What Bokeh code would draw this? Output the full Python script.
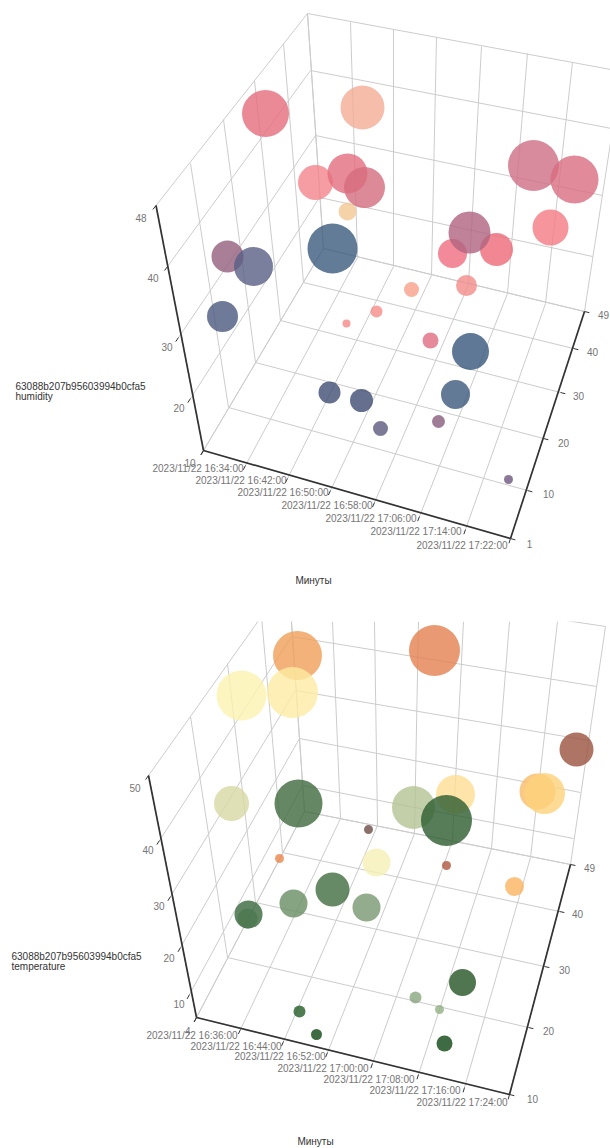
from bokeh.plotting import figure
from bokeh.embed import file_html
from bokeh.resources import INLINE
from bokeh.layouts import column
from bokeh.core.properties import value

# ---------- chart 1: humidity (bubble values, projected position) ----------
hum_sx = [362,265,315,347,364,533,574,347,550,452,496,469,332,227,253,411,466,222,346,376,430,470,329,361,380,455,438,508]
hum_sy = [107,113,182,173,187,165,179,211,227,253,249,232,248,256,266,289,285,316,323,311,340,351,392,400,428,394,421,479]
hum_size = [44,47,35,40,41,51,48,18,36,29,33,42,50,32,39,15,21,31,8,12,16,37,22,23,15,29,13,9]
hum_color = ["#f6bdab","#ea8a97","#f59da3","#e98a98","#dd8a98","#d88b9c","#e08a9a","#f6d2a8","#f6959c","#f38a99","#f08793","#c08299",
             "#627b96","#a87f97","#7a7f9d","#f9b3a0","#f5a3a0","#6f7a98","#f7a0a0","#f8a3a0","#e68a9b","#5e7895","#66708f","#65708f",
             "#7d7a98","#627a95","#a07d97","#8b7799"]
hum_z_labels = ["48","40","30","20","10"]
hum_y_labels = ["49","40","30","20","10","1"]
hum_time_labels = ["2023/11/22 16:34:00","2023/11/22 16:42:00","2023/11/22 16:50:00","2023/11/22 16:58:00",
                   "2023/11/22 17:06:00","2023/11/22 17:14:00","2023/11/22 17:22:00"]

# ---------- chart 2: temperature ----------
tem_sx = [297,434,241,292,576,231,298,413,455,446,537,544,368,446,279,376,514,332,366,293,248,247,462,415,439,444,316,299]
tem_sy = [655,650,695,692,749,803,803,807,794,820,791,793,829,865,858,862,886,889,907,903,914,918,982,997,1009,1043,1034,1011]
tem_size = [49,51,50,51,34,35,48,43,39,51,36,41,9,9,9,28,19,34,28,28,28,20,27,12,9,16,11,12]
tem_color = ["#f3b27a","#ea9a72","#fdf5c0","#fdefb5","#ae7565","#dfe0b5","#658763","#c2cfa8","#fee4a8","#567c58","#fbc987","#fddb95",
             "#8b6f6a","#bf7865","#ef9e70","#f8f3c4","#fcc27f","#668a65","#93ac8d","#86a382","#5f8563","#6f9271","#507650","#a0b898",
             "#a8c09b","#3f6b42","#3f6b42","#4f7c50"]
tem_z_labels = ["50","40","30","20","10","4"]
tem_y_labels = ["49","40","30","20","10"]
tem_time_labels = ["2023/11/22 16:36:00","2023/11/22 16:44:00","2023/11/22 16:52:00","2023/11/22 17:00:00",
                   "2023/11/22 17:08:00","2023/11/22 17:16:00","2023/11/22 17:24:00"]
series_name = "63088b207b95603994b0cfa5"
x_name = "Минуты"

ALPHA = 0.8
FONT = value("Liberation Sans")
LABEL = "#757575"


def base(hexcol):
    """Colour that gives the observed tint when drawn at ALPHA over white."""
    ch = [int(hexcol[i:i + 2], 16) for i in (1, 3, 5)]
    ch = [max(0, min(255, round((c - 255 * (1 - ALPHA)) / ALPHA))) for c in ch]
    return "#%02x%02x%02x" % tuple(ch)


def outward(a, b, n=5.0):
    dx, dy = a[0] - b[0], a[1] - b[1]
    d = (dx * dx + dy * dy) ** 0.5
    return (a[0] + dx / d * n, a[1] + dy / d * n)


def make(top, bottom, geo, sx, sy, size, color, z_labels, y_labels, t_labels, metric):
    p = figure(width=610, height=bottom - top, x_range=(0, 610), y_range=(bottom, top),
               output_backend="svg", toolbar_location=None, min_border=0,
               x_axis_type=None, y_axis_type=None, outline_line_color=None,
               background_fill_color="white", border_fill_color="white")
    p.grid.visible = False

    seg = geo["grid"]
    p.multi_line([[a[0], b[0]] for a, b in seg], [[a[1], b[1]] for a, b in seg],
                 line_color="#cccccc", line_width=1)

    tk = [(a, outward(a, b)) for a, b in geo["ticks"]]
    p.multi_line([[a[0], b[0]] for a, b in tk], [[a[1], b[1]] for a, b in tk],
                 line_color="#333333", line_width=1)
    for a, b in geo["axes"]:
        p.line([a[0], b[0]], [a[1], b[1]], line_color="#333333", line_width=1.7)

    p.scatter(sx, sy, size=size, marker="circle", fill_color=[base(c) for c in color],
              fill_alpha=ALPHA, line_color=None)

    zx, zy = geo["z_label"]
    p.text(zx, zy, text=z_labels, text_font=FONT, text_font_size="10px", text_color=LABEL,
           text_align="right", text_baseline="middle")
    yx, yy = geo["y_label"]
    p.text(yx, yy, text=y_labels, text_font=FONT, text_font_size="10px", text_color=LABEL,
           text_align="center", text_baseline="middle")
    tx, ty = geo["t_label"]
    p.text(tx, ty, text=t_labels, text_font=FONT, text_font_size="10px", text_color=LABEL,
           text_align="right", text_baseline="middle")

    nx, ny = geo["name"]
    p.text([nx, nx], [ny, ny + 10], text=[series_name, metric], text_font=FONT, text_font_size="10px",
           text_color="#333333", text_align="left", text_baseline="middle")
    mx, my = geo["x_name"]
    p.text([mx], [my], text=[x_name], text_font=FONT, text_font_size="10px",
           text_color="#333333", text_align="center", text_baseline="middle")
    return p


def frame(back_bot, left_bot, left_top, wall_l_z, wall_b_z, wall_r_z, axis_x, axis_y, top_pts):
    grid, ticks = [], []
    for a, b in zip(back_bot, top_pts):
        grid.append((a, b))
    for a, b in zip(left_bot, left_top):
        grid.append((a, b))
    for a, b, c in zip(wall_l_z, wall_b_z, wall_r_z):
        grid.append((a, b))
        grid.append((b, c))
        ticks.append((a, b))
    for a, b in zip(axis_x, back_bot):
        grid.append((a, b))
        ticks.append((a, b))
    for a, b in zip(axis_y, left_bot):
        grid.append((a, b))
        ticks.append((a, b))
    return grid, ticks


g1_grid, g1_ticks = frame(
    [(323, 248), (357, 257), (393, 266), (431, 275), (468, 284), (507, 293), (545, 303), (584, 311)],
    [(203, 450), (228, 407), (255, 362), (280, 320), (303, 282), (323, 248)],
    [(155.5, 205), (190, 163), (223, 119), (254, 80), (283, 43), (307, 13)],
    [(155.5, 205), (167, 266), (178, 337), (190, 398), (203, 450)],
    [(307, 13), (310, 70), (315, 135), (319, 197), (323, 248)],
    [(621, 71), (611, 128), (602, 195), (592, 256), (584, 311)],
    [(203, 450), (245, 465), (287, 478), (330, 490), (374, 502), (419, 516), (465, 529), (510, 538)],
    [(510, 538), (527, 490), (543, 438), (560, 392), (573, 348), (584, 311)],
    [(307, 13), (350, 22), (393, 29), (436, 37), (481, 46), (527, 53), (572, 62), (621, 71)],
)
g1 = dict(
    grid=g1_grid, ticks=g1_ticks,
    axes=[((155.5, 205), (203, 450)), ((203, 450), (510, 538)), ((510, 538), (584, 311))],
    z_label=([146, 158, 172, 184, 195], [217, 277, 346, 407, 462]),
    y_label=([603, 592, 578, 563, 548, 529], [314, 351, 395, 442, 493, 543]),
    t_label=([243, 286, 328, 372, 416, 461, 507], [468, 480, 492, 505, 518, 531, 545]),
    name=(15, 386), x_name=(313, 580),
)

g2_grid, g2_ticks = frame(
    [(304, 811), (340, 818), (377, 825), (414, 833), (452, 840), (491, 848), (530, 857), (570, 864)],
    [(196, 1017), (227, 957), (255, 902), (282, 852), (304, 811)],
    [(148, 775), (190, 716), (227, 663), (261, 616), (288, 578)],
    [(148, 775), (159, 840), (170, 896), (180, 947), (189, 994), (196, 1017)],
    [(288, 578), (291, 636), (295, 690), (299, 738), (302, 785), (304, 811)],
    [(605, 626), (596, 686), (588, 740), (580, 792), (573, 838), (570, 864)],
    [(196, 1017), (240, 1029), (283, 1041), (327, 1052), (372, 1063), (418, 1074), (464, 1087), (509, 1094)],
    [(509, 1094), (528, 1027), (544, 966), (559, 911), (570, 864)],
    [(288, 578), (332, 621), (374, 621), (418, 621), (463, 621), (509, 621), (557, 621), (605, 626)],
)
g2 = dict(
    grid=g2_grid, ticks=g2_ticks,
    axes=[((148, 775), (196, 1017)), ((196, 1017), (509, 1094)), ((509, 1094), (570, 864))],
    z_label=([140, 153, 164, 174, 184, 190], [787, 849, 905, 957, 1003, 1030]),
    y_label=([589, 577, 564, 548, 532], [867, 913, 969, 1030, 1098]),
    t_label=([237, 281, 325, 368, 414, 460, 507], [1035, 1046, 1056, 1068, 1079, 1090, 1102]),
    name=(11, 956), x_name=(315, 1141),
)

p1 = make(0, 621, g1, hum_sx, hum_sy, hum_size, hum_color, hum_z_labels, hum_y_labels, hum_time_labels, "humidity")
p2 = make(621, 1148, g2, tem_sx, tem_sy, tem_size, tem_color, tem_z_labels, tem_y_labels, tem_time_labels, "temperature")

page = column(p1, p2, spacing=0)
open("out.html", "w").write(file_html(page, INLINE))
